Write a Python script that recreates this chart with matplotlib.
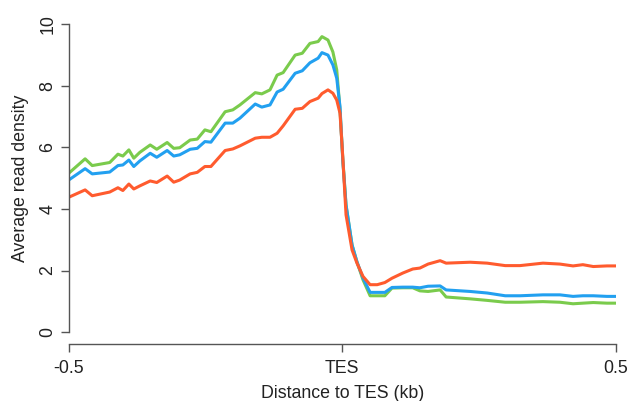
import matplotlib
matplotlib.use("Agg")
import matplotlib.pyplot as plt

plt.rcParams["font.family"] = ["Liberation Sans", "DejaVu Sans"]

# Distance to the TES (kb) and average read density for each sample
distance = [-0.500, -0.470, -0.457, -0.425, -0.410, -0.401, -0.390, -0.381, -0.370, -0.351,
            -0.339, -0.320, -0.308, -0.297, -0.278, -0.265, -0.251, -0.240, -0.214, -0.200,
            -0.187, -0.159, -0.147, -0.132, -0.119, -0.108, -0.086, -0.073, -0.059, -0.044,
            -0.037, -0.026, -0.017, -0.010, -0.004, 0.001, 0.007, 0.018, 0.027, 0.038,
            0.051, 0.064, 0.078, 0.091, 0.111, 0.129, 0.142, 0.157, 0.179, 0.190,
            0.234, 0.265, 0.298, 0.325, 0.367, 0.398, 0.422, 0.440, 0.459, 0.484, 0.500]

green = [5.16, 5.63, 5.41, 5.51, 5.78, 5.72, 5.92, 5.65, 5.84, 6.08,
         5.94, 6.16, 5.97, 5.99, 6.24, 6.27, 6.57, 6.51, 7.16, 7.22,
         7.38, 7.78, 7.74, 7.87, 8.35, 8.43, 9.00, 9.06, 9.38, 9.44,
         9.60, 9.49, 9.10, 8.52, 7.22, 5.66, 4.13, 2.83, 2.28, 1.70,
         1.18, 1.18, 1.18, 1.43, 1.44, 1.44, 1.34, 1.32, 1.37, 1.14,
         1.08, 1.03, 0.97, 0.97, 0.99, 0.97, 0.92, 0.94, 0.96, 0.94, 0.94]

blue = [4.94, 5.31, 5.14, 5.20, 5.41, 5.43, 5.59, 5.38, 5.56, 5.81,
        5.68, 5.90, 5.72, 5.76, 5.94, 5.97, 6.19, 6.17, 6.79, 6.79,
        6.95, 7.41, 7.31, 7.38, 7.80, 7.89, 8.41, 8.49, 8.75, 8.90,
        9.08, 9.00, 8.68, 8.25, 7.32, 5.59, 4.13, 2.83, 2.28, 1.76,
        1.29, 1.29, 1.29, 1.45, 1.46, 1.46, 1.44, 1.49, 1.50, 1.37,
        1.32, 1.27, 1.18, 1.18, 1.21, 1.21, 1.16, 1.18, 1.18, 1.16, 1.16]

red = [4.38, 4.62, 4.43, 4.55, 4.69, 4.60, 4.81, 4.65, 4.75, 4.91,
       4.86, 5.07, 4.87, 4.94, 5.14, 5.19, 5.38, 5.38, 5.90, 5.95,
       6.05, 6.30, 6.33, 6.33, 6.46, 6.70, 7.24, 7.27, 7.49, 7.60,
       7.75, 7.87, 7.76, 7.54, 7.11, 5.70, 3.81, 2.67, 2.24, 1.81,
       1.54, 1.54, 1.61, 1.75, 1.92, 2.05, 2.08, 2.21, 2.32, 2.24,
       2.27, 2.24, 2.16, 2.16, 2.24, 2.21, 2.15, 2.19, 2.13, 2.15, 2.15]

x_ticks = [-0.5, 0.0, 0.5]
x_tick_labels = ["-0.5", "TES", "0.5"]
y_ticks = [0, 2, 4, 6, 8, 10]

W, H = 628, 401
fig = plt.figure(figsize=(W / 100, H / 100), dpi=100)
left, right, top, bottom = 68.7, 615.7, 12.0, 344.4
ax = fig.add_axes([left / W, 1 - bottom / H, (right - left) / W, (bottom - top) / H])

for series, color in ((green, "#7ACB4C"), (blue, "#22A0F0"), (red, "#FF5B2E")):
    ax.plot(distance, series, color=color, lw=2.2, solid_joinstyle="round")

ax.set_xlim(-0.5, 0.5)
ax.set_ylim(-0.4, 10.4)

axis_color = "#555555"
for side in ("top", "right"):
    ax.spines[side].set_visible(False)
ax.spines["left"].set_bounds(0, 10)
ax.spines["bottom"].set_bounds(-0.5, 0.5)
for side in ("left", "bottom"):
    ax.spines[side].set_color(axis_color)
    ax.spines[side].set_linewidth(1.0)

ax.set_xticks(x_ticks)
ax.set_xticklabels(x_tick_labels)
ax.set_yticks(y_ticks)
ax.set_yticklabels([str(v) for v in y_ticks], rotation=90, va="center")
ax.tick_params(axis="both", direction="out", length=6, width=1.0, color=axis_color,
               labelsize=12.8, labelcolor="#222222", pad=5)
ax.tick_params(axis="y", pad=3)

ax.set_xlabel("Distance to TES (kb)", fontsize=12.8, color="#222222", labelpad=6)
ax.set_ylabel("Average read density", fontsize=12.8, color="#222222", labelpad=7)

fig.savefig("out.png", dpi=100)
